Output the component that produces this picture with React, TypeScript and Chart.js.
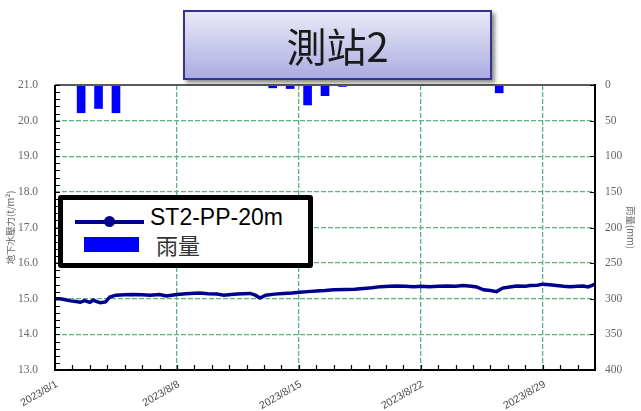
import React, { useEffect, useRef } from "react";
import { Chart, registerables } from "chart.js";

Chart.register(...registerables);

// ---- Data ----
const xTickLabels = ["2023/8/1", "2023/8/8", "2023/8/15", "2023/8/22", "2023/8/29"];

// groundwater pressure: time in days since 2023/8/1 00:00, value in t/m²
const hydroDays = [
  0, 0.3, 0.6, 0.9, 1.2, 1.45, 1.7, 2.0, 2.2, 2.4, 2.6, 2.9, 3.15, 3.5, 4.0, 4.5,
  5.0, 5.45, 6.0, 6.4, 7.0, 7.5, 7.75, 8.3, 8.8, 9.3, 9.7, 10.1, 10.45, 11.2, 11.5,
  11.77, 12.1, 12.6, 13.1, 13.6, 14.06, 14.5, 15.0, 15.5, 16.0, 16.7, 17.2, 17.7,
  18.2, 18.7, 19.2, 19.6, 20.1, 20.6, 21.0, 21.5, 22.0, 22.5, 23.0, 23.45, 23.9,
  24.2, 24.6, 25.0, 25.35, 25.7, 26.1, 26.5, 27.0, 27.3, 27.7, 28.0, 28.4, 28.8,
  29.2, 29.56, 30.0, 30.33, 30.6, 30.8, 31.0,
];
const hydroLevel = [
  15.0, 15.0, 14.97, 14.94, 14.92, 14.9, 14.95, 14.9, 14.96, 14.92, 14.89, 14.91, 15.05,
  15.1, 15.11, 15.12, 15.11, 15.1, 15.12, 15.08, 15.12, 15.14, 15.15, 15.16, 15.14,
  15.13, 15.1, 15.12, 15.13, 15.15, 15.1, 15.02, 15.1, 15.13, 15.15, 15.16, 15.18,
  15.2, 15.22, 15.23, 15.25, 15.26, 15.27, 15.29, 15.31, 15.34, 15.35, 15.36, 15.35,
  15.34, 15.35, 15.34, 15.35, 15.36, 15.35, 15.37, 15.35, 15.33, 15.25, 15.23, 15.2,
  15.3, 15.33, 15.36, 15.35, 15.37, 15.38, 15.41, 15.39, 15.37, 15.35, 15.34, 15.35,
  15.36, 15.33, 15.37, 15.41,
];

// daily rainfall: day of August, mm
const rainDayOfMonth = [2, 3, 4, 13, 14, 15, 16, 17, 26];
const rainMm = [39, 33, 39, 4, 5, 28, 15, 2, 11];

const GRID_GREEN = "rgb(92,180,130)";

const framePlugin = {
  id: "frameTicks",
  afterDraw(chart: any) {
    const { ctx, chartArea, scales } = chart;
    const { left, right, top, bottom } = chartArea;
    ctx.save();
    // top border (gray)
    ctx.strokeStyle = "#5a5a5a";
    ctx.lineWidth = 2;
    ctx.beginPath();
    ctx.moveTo(left, top);
    ctx.lineTo(right, top);
    ctx.stroke();
    // left, bottom, right borders
    ctx.strokeStyle = "#000";
    ctx.lineWidth = 2;
    ctx.beginPath();
    ctx.moveTo(left, top);
    ctx.lineTo(left, bottom);
    ctx.lineTo(right, bottom);
    ctx.lineTo(right, top - 1);
    ctx.stroke();
    // inside ticks
    ctx.lineWidth = 1.2;
    ctx.beginPath();
    const xs = scales.x;
    for (let d = xs.min; d <= xs.max; d += 1) {
      const px = Math.round(xs.getPixelForValue(d)) + 0.5;
      ctx.moveTo(px, bottom);
      ctx.lineTo(px, bottom - 5);
    }
    const ys = scales.y;
    for (let k = 0; k <= 40; k++) {
      const v = ys.min + k * 0.2;
      const py = Math.round(ys.getPixelForValue(v)) + 0.5;
      ctx.moveTo(left, py);
      ctx.lineTo(left + 5, py);
    }
    const y2 = scales.y2;
    for (let v = y2.min; v <= y2.max; v += 50) {
      const py = Math.round(y2.getPixelForValue(v)) + 0.5;
      ctx.moveTo(right, py);
      ctx.lineTo(right - 5, py);
    }
    ctx.stroke();
    ctx.restore();
  },
};

export default function App() {
  const canvasRef = useRef<HTMLCanvasElement | null>(null);

  useEffect(() => {
    if (!canvasRef.current) return;
    const lineData = hydroDays.map((d, i) => ({ x: d, y: hydroLevel[i] }));
    const barData = rainDayOfMonth.map((d, i) => ({ x: d - 1 + 0.5, y: rainMm[i] }));
    const tickFont = { family: "'Liberation Serif', serif", size: 11.5 };
    const chart = new Chart(canvasRef.current, {
      type: "line",
      data: {
        datasets: [
          {
            type: "line",
            label: "ST2-PP-20m",
            data: lineData,
            borderColor: "#000090",
            backgroundColor: "#000090",
            borderWidth: 3.5,
            pointRadius: 0,
            tension: 0,
            yAxisID: "y",
            order: 1,
          } as any,
          {
            type: "bar",
            label: "雨量",
            data: barData,
            backgroundColor: "#0000ff",
            borderWidth: 0,
            barThickness: 8,
            yAxisID: "y2",
            order: 2,
          } as any,
        ],
      },
      plugins: [framePlugin],
      options: {
        responsive: false,
        animation: false,
        devicePixelRatio: 1,
        layout: { padding: { top: 85, left: 0, right: 0, bottom: 0 } },
        plugins: { legend: { display: false }, tooltip: { enabled: false } },
        scales: {
          x: {
            type: "linear",
            min: 0,
            max: 31,
            offset: false,
            afterFit: (s: any) => {
              s.height = 41;
            },
            border: { display: false, dash: [5, 2] },
            grid: {
              offset: false,
              drawTicks: false,
              lineWidth: 1.3,
              color: (c: any) => {
                const v = c.tick ? c.tick.value : -1;
                return v > 0 && v < 31 && v % 7 === 0 ? GRID_GREEN : "rgba(0,0,0,0)";
              },
            },
            ticks: {
              stepSize: 1,
              autoSkip: false,
              maxRotation: 30,
              minRotation: 30,
              padding: 8,
              labelOffset: 2,
              color: "#4a4a4a",
              font: { family: "'Liberation Sans', Arial, sans-serif", size: 10.5 },
              callback: (v: any) => {
                const n = Number(v);
                return n % 7 === 0 && n < 31 ? xTickLabels[n / 7] : "";
              },
            },
          },
          y: {
            type: "linear",
            position: "left",
            min: 13,
            max: 21,
            afterFit: (s: any) => {
              s.width = 55;
            },
            border: { display: false, dash: [5, 2] },
            grid: {
              drawTicks: false,
              lineWidth: 1.3,
              color: (c: any) => {
                const v = c.tick ? c.tick.value : 0;
                return v > 13 && v < 21 ? GRID_GREEN : "rgba(0,0,0,0)";
              },
            },
            ticks: {
              stepSize: 1,
              padding: 17,
              color: "#666",
              font: tickFont,
              callback: (v: any) => Number(v).toFixed(1),
            },
            title: {
              display: true,
              text: "地下水壓力(t/m²)",
              color: "#666",
              padding: { top: 5, bottom: 0 },
              font: { family: "'Noto Sans CJK TC', sans-serif", size: 9.5 },
            },
          },
          y2: {
            type: "linear",
            position: "right",
            min: 0,
            max: 400,
            reverse: true,
            afterFit: (s: any) => {
              s.width = 46;
            },
            border: { display: false },
            grid: { display: false, drawTicks: false },
            ticks: {
              stepSize: 50,
              padding: 10,
              color: "#666",
              font: tickFont,
            },
            title: {
              display: true,
              text: "雨量(mm)",
              color: "#666",
              padding: { top: 5, bottom: 0 },
              font: { family: "'Noto Sans CJK TC', sans-serif", size: 9.5 },
            },
          },
        },
      } as any,
    });
    return () => chart.destroy();
  }, []);

  return (
    <div
      style={{
        position: "absolute",
        left: 0,
        top: 0,
        width: 641,
        height: 411,
        background: "#fff",
        overflow: "hidden",
      }}
    >
      <canvas ref={canvasRef} width={641} height={411} style={{ display: "block" }} />
      {/* Title box */}
      <div
        style={{
          position: "absolute",
          left: 183,
          top: 10,
          width: 305,
          height: 66,
          border: "2px solid #34348f",
          background: "linear-gradient(#e9e9f8, #acace0)",
          boxShadow: "3px 3px 4px rgba(0,0,0,0.45)",
          display: "flex",
          alignItems: "center",
          justifyContent: "center",
          fontFamily: "'Noto Sans CJK TC', sans-serif",
          fontSize: 40,
          color: "#1a1a1a",
          lineHeight: 1,
        }}
      >
        測站2
      </div>
      {/* Legend box */}
      <div
        style={{
          position: "absolute",
          left: 58,
          top: 195,
          width: 245,
          height: 63,
          border: "5px solid #000",
          borderRadius: 3,
          background: "#fff",
        }}
      >
        <div
          style={{
            position: "absolute",
            left: 12,
            top: 20,
            width: 69,
            height: 4,
            background: "#000090",
          }}
        />
        <div
          style={{
            position: "absolute",
            left: 41,
            top: 16,
            width: 11,
            height: 11,
            borderRadius: "50%",
            background: "#000090",
          }}
        />
        <div
          style={{
            position: "absolute",
            left: 87,
            top: 6,
            fontFamily: "'Liberation Sans', Arial, sans-serif",
            fontSize: 23,
            color: "#000",
            lineHeight: 1,
            whiteSpace: "nowrap",
          }}
        >
          ST2-PP-20m
        </div>
        <div
          style={{
            position: "absolute",
            left: 21,
            top: 37,
            width: 55,
            height: 15,
            background: "#0000ff",
          }}
        />
        <div
          style={{
            position: "absolute",
            left: 93,
            top: 33,
            fontFamily: "'Noto Sans CJK TC', sans-serif",
            fontSize: 22,
            color: "#333",
            lineHeight: 1,
            whiteSpace: "nowrap",
          }}
        >
          雨量
        </div>
      </div>
    </div>
  );
}
